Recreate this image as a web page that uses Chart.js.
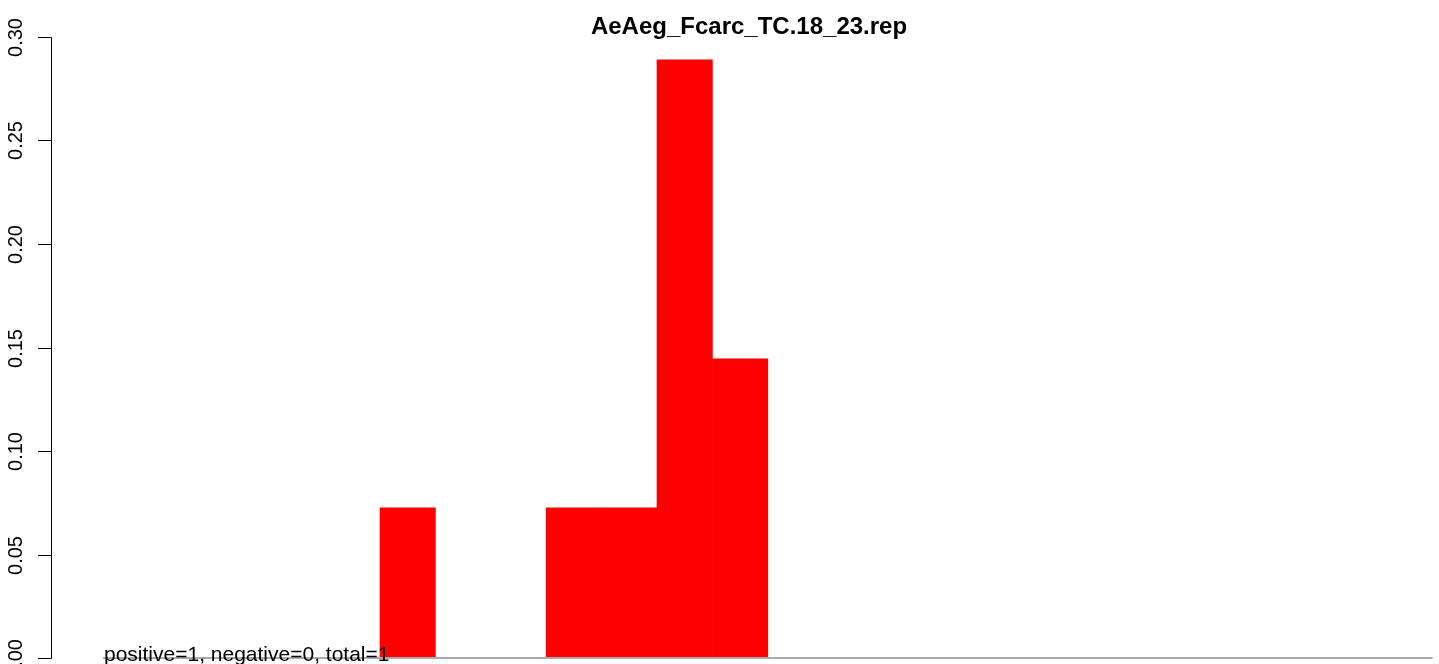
<!DOCTYPE html>
<html>
<head>
<meta charset="utf-8">
<script src="https://cdn.jsdelivr.net/npm/chart.js@4/dist/chart.umd.min.js"></script>
<style>
html,body{margin:0;padding:0;background:#fff;overflow:hidden;}
#wrap{width:1439px;height:664px;position:relative;}
</style>
</head>
<body>
<div id="wrap"><canvas id="c" width="1439" height="664"></canvas></div>
<script>
// bins of the histogram (24 equal bins)
const categories = ["1","2","3","4","5","6","7","8","9","10","11","12","13","14","15","16","17","18","19","20","21","22","23","24"];
const values = [0,0,0,0,0,0.0725,0,0,0.0725,0.0725,0.289,0.1445,0,0,0,0,0,0,0,0,0,0,0,0];
const yTicks = [0,0.05,0.10,0.15,0.20,0.25,0.30];
const yTickLabels = ["0.00","0.05","0.10","0.15","0.20","0.25","0.30"];
const titleText = "AeAeg_Fcarc_TC.18_23.rep";
const noteText = "positive=1, negative=0, total=1";

const FONT = "'Liberation Sans', Arial, Helvetica, sans-serif";

const decor = {
  id: 'decor',
  afterDatasetsDraw(chart) {
    const ctx = chart.ctx;
    const y = chart.scales.y;
    const area = chart.chartArea;
    ctx.save();
    // gray baseline
    ctx.strokeStyle = '#aaaaaa';
    ctx.lineWidth = 2;
    ctx.beginPath();
    ctx.moveTo(area.left, y.getPixelForValue(0));
    ctx.lineTo(area.right, y.getPixelForValue(0));
    ctx.stroke();
    // y axis
    const ax = 51;
    ctx.strokeStyle = '#000';
    ctx.lineWidth = 1;
    ctx.beginPath();
    ctx.moveTo(ax + 0.5, Math.round(y.getPixelForValue(yTicks[0])) + 0.5);
    ctx.lineTo(ax + 0.5, Math.round(y.getPixelForValue(yTicks[yTicks.length-1])) + 0.5);
    ctx.stroke();
    ctx.fillStyle = '#000';
    ctx.font = '20px ' + FONT;
    ctx.textAlign = 'center';
    ctx.textBaseline = 'alphabetic';
    yTicks.forEach((t, i) => {
      const py = Math.round(y.getPixelForValue(t)) + 0.5;
      ctx.beginPath();
      ctx.moveTo(38, py);
      ctx.lineTo(ax + 0.5, py);
      ctx.stroke();
      ctx.save();
      ctx.translate(22, py);
      ctx.rotate(-Math.PI / 2);
      ctx.fillText(yTickLabels[i], 0, 0);
      ctx.restore();
    });
    // title
    ctx.font = 'bold 24px ' + FONT;
    ctx.textAlign = 'center';
    ctx.fillText(titleText, 749, 34);
    // note
    ctx.font = '21px ' + FONT;
    ctx.textAlign = 'left';
    ctx.fillText(noteText, 104, 661);
    ctx.restore();
  }
};

new Chart(document.getElementById('c'), {
  type: 'bar',
  data: {
    labels: categories,
    datasets: [{
      data: values,
      backgroundColor: '#ff0000',
      borderWidth: 0,
      barPercentage: 1.0,
      categoryPercentage: 1.0
    }]
  },
  options: {
    responsive: false,
    animation: false,
    layout: { padding: { left: 103, right: 6.4, top: 37, bottom: 6 } },
    plugins: { legend: { display: false }, tooltip: { enabled: false }, title: { display: false } },
    scales: {
      x: { display: false, grid: { display: false } },
      y: { display: false, min: 0, max: 0.3, grid: { display: false } }
    }
  },
  plugins: [decor]
});
</script>
</body>
</html>
